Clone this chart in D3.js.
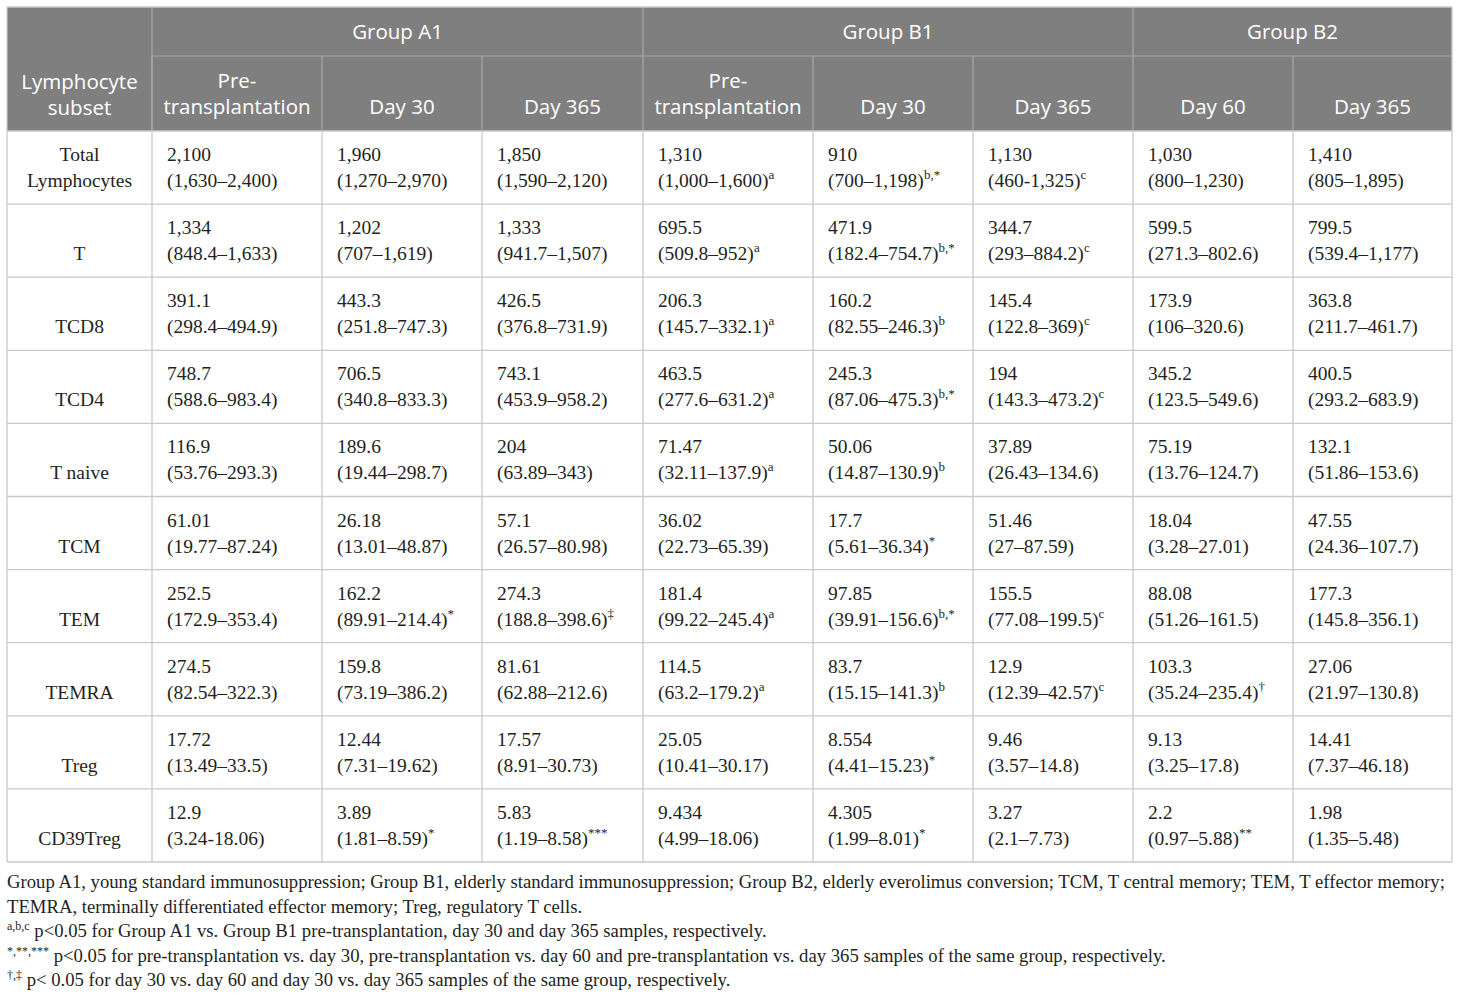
<!DOCTYPE html>
<html>
<head>
<meta charset="utf-8">
<script src="https://cdn.jsdelivr.net/npm/d3@7"></script>
<style>
  body { margin: 0; background: #fff; }
</style>
</head>
<body>
<script>
// data
var groups = ["Group A1", "Group B1", "Group B2"];
var timepoints = [
    ["Pre-", "transplantation"], ["Day 30"], ["Day 365"],
    ["Pre-", "transplantation"], ["Day 30"], ["Day 365"],
    ["Day 60"], ["Day 365"]
];
var groupSpan = [3, 3, 2];
var subsets = [["Total", "Lymphocytes"], ["T"], ["TCD8"], ["TCD4"], ["T naive"],
    ["TCM"], ["TEM"], ["TEMRA"], ["Treg"], ["CD39Treg"]];

var medians = [
    ["2,100", "1,960", "1,850", "1,310", "910", "1,130", "1,030", "1,410"],
    ["1,334", "1,202", "1,333", "695.5", "471.9", "344.7", "599.5", "799.5"],
    ["391.1", "443.3", "426.5", "206.3", "160.2", "145.4", "173.9", "363.8"],
    ["748.7", "706.5", "743.1", "463.5", "245.3", "194", "345.2", "400.5"],
    ["116.9", "189.6", "204", "71.47", "50.06", "37.89", "75.19", "132.1"],
    ["61.01", "26.18", "57.1", "36.02", "17.7", "51.46", "18.04", "47.55"],
    ["252.5", "162.2", "274.3", "181.4", "97.85", "155.5", "88.08", "177.3"],
    ["274.5", "159.8", "81.61", "114.5", "83.7", "12.9", "103.3", "27.06"],
    ["17.72", "12.44", "17.57", "25.05", "8.554", "9.46", "9.13", "14.41"],
    ["12.9", "3.89", "5.83", "9.434", "4.305", "3.27", "2.2", "1.98"]
];
var ranges = [
    ["1,630–2,400", "1,270–2,970", "1,590–2,120", "1,000–1,600", "700–1,198", "460-1,325", "800–1,230", "805–1,895"],
    ["848.4–1,633", "707–1,619", "941.7–1,507", "509.8–952", "182.4–754.7", "293–884.2", "271.3–802.6", "539.4–1,177"],
    ["298.4–494.9", "251.8–747.3", "376.8–731.9", "145.7–332.1", "82.55–246.3", "122.8–369", "106–320.6", "211.7–461.7"],
    ["588.6–983.4", "340.8–833.3", "453.9–958.2", "277.6–631.2", "87.06–475.3", "143.3–473.2", "123.5–549.6", "293.2–683.9"],
    ["53.76–293.3", "19.44–298.7", "63.89–343", "32.11–137.9", "14.87–130.9", "26.43–134.6", "13.76–124.7", "51.86–153.6"],
    ["19.77–87.24", "13.01–48.87", "26.57–80.98", "22.73–65.39", "5.61–36.34", "27–87.59", "3.28–27.01", "24.36–107.7"],
    ["172.9–353.4", "89.91–214.4", "188.8–398.6", "99.22–245.4", "39.91–156.6", "77.08–199.5", "51.26–161.5", "145.8–356.1"],
    ["82.54–322.3", "73.19–386.2", "62.88–212.6", "63.2–179.2", "15.15–141.3", "12.39–42.57", "35.24–235.4", "21.97–130.8"],
    ["13.49–33.5", "7.31–19.62", "8.91–30.73", "10.41–30.17", "4.41–15.23", "3.57–14.8", "3.25–17.8", "7.37–46.18"],
    ["3.24-18.06", "1.81–8.59", "1.19–8.58", "4.99–18.06", "1.99–8.01", "2.1–7.73", "0.97–5.88", "1.35–5.48"]
];
var marks = [
    ["", "", "", "a", "b,*", "c", "", ""],
    ["", "", "", "a", "b,*", "c", "", ""],
    ["", "", "", "a", "b", "c", "", ""],
    ["", "", "", "a", "b,*", "c", "", ""],
    ["", "", "", "a", "b", "", "", ""],
    ["", "", "", "", "*", "", "", ""],
    ["", "*", "‡", "a", "b,*", "c", "", ""],
    ["", "", "", "a", "b", "c", "†", ""],
    ["", "", "", "", "*", "", "", ""],
    ["", "*", "***", "", "*", "", "**", ""]
];
var footnotes = [
    ["", "Group A1, young standard immunosuppression; Group B1, elderly standard immunosuppression; Group B2, elderly everolimus conversion; TCM, T central memory; TEM, T effector memory;"],
    ["", "TEMRA, terminally differentiated effector memory; Treg, regulatory T cells."],
    ["a,b,c", " p<0.05 for Group A1 vs. Group B1 pre-transplantation, day 30 and day 365 samples, respectively."],
    ["*,**,***", " p<0.05 for pre-transplantation vs. day 30, pre-transplantation vs. day 60 and pre-transplantation vs. day 365 samples of the same group, respectively."],
    ["†,‡", " p< 0.05 for day 30 vs. day 60 and day 30 vs. day 365 samples of the same group, respectively."]
];

// layout
var width = 1460, height = 998;
var tableLeft = 7, tableTop = 7;
var colWidths = [145, 170, 160, 161, 170, 160, 160, 160, 159];
var edges = [tableLeft].concat(Array.from(d3.cumsum(colWidths), function (d) { return tableLeft + d; }));
var tableRight = edges[edges.length - 1];
var head1 = 49, head2 = 75;
var bodyTop = tableTop + head1 + head2;
var bodyBottom = 862;
var serif = "'Liberation Serif', 'DejaVu Serif', serif";
var sans = "'Open Sans', 'Noto Sans', sans-serif";
var headSize = 20.5;
var gridColor = "#c9c9c9";
var headColor = "#7f7f7f";
var headLine = "#a8a8a8";
var ink = "#231f20";

var y = d3.scaleBand()
    .domain(d3.range(subsets.length))
    .range([bodyTop, bodyBottom]);

var svg = d3.select("body").append("svg")
    .attr("width", width)
    .attr("height", height);

// header block
svg.append("rect")
    .attr("x", tableLeft).attr("y", tableTop)
    .attr("width", tableRight - tableLeft).attr("height", head1 + head2)
    .attr("fill", headColor);

svg.append("line")
    .attr("x1", edges[1]).attr("x2", tableRight)
    .attr("y1", tableTop + head1).attr("y2", tableTop + head1)
    .attr("stroke", headLine).attr("stroke-width", 1.2);

var gStart = 1;
groups.forEach(function (g, i) {
    var x0 = edges[gStart], x1 = edges[gStart + groupSpan[i]];
    svg.append("text")
        .attr("x", (x0 + x1) / 2).attr("y", tableTop + 32)
        .attr("text-anchor", "middle")
        .attr("font-family", sans).attr("font-size", headSize)
        .attr("fill", "#fff")
        .text(g);
    if (i > 0) {
        svg.append("line")
            .attr("x1", x0).attr("x2", x0)
            .attr("y1", tableTop).attr("y2", bodyTop)
            .attr("stroke", headLine).attr("stroke-width", 1.2);
    }
    gStart += groupSpan[i];
});

svg.append("line")
    .attr("x1", edges[1]).attr("x2", edges[1])
    .attr("y1", tableTop).attr("y2", bodyTop)
    .attr("stroke", headLine).attr("stroke-width", 1.2);

timepoints.forEach(function (tp, i) {
    var x0 = edges[i + 1], x1 = edges[i + 2];
    if (!(i === 3 || i === 6)) {
        svg.append("line")
            .attr("x1", x0).attr("x2", x0)
            .attr("y1", tableTop + head1).attr("y2", bodyTop)
            .attr("stroke", headLine).attr("stroke-width", 1.2);
    }
    var t = svg.append("text")
        .attr("text-anchor", "middle")
        .attr("font-family", sans).attr("font-size", headSize)
        .attr("fill", "#fff");
    tp.forEach(function (line, k) {
        t.append("tspan")
            .attr("x", (x0 + x1) / 2)
            .attr("y", bodyTop - 17 - (tp.length - 1 - k) * 26)
            .text(line);
    });
});

var hl = svg.append("text")
    .attr("text-anchor", "middle")
    .attr("font-family", sans).attr("font-size", headSize)
    .attr("fill", "#fff");
["Lymphocyte", "subset"].forEach(function (line, k) {
    hl.append("tspan")
        .attr("x", (edges[0] + edges[1]) / 2)
        .attr("y", tableTop + 82 + k * 26)
        .text(line);
});

// body grid
svg.selectAll(".hline")
    .data(d3.range(subsets.length + 1))
    .join("line")
    .attr("x1", tableLeft).attr("x2", tableRight)
    .attr("y1", function (d) { return d < subsets.length ? y(d) : bodyBottom; })
    .attr("y2", function (d) { return d < subsets.length ? y(d) : bodyBottom; })
    .attr("stroke", gridColor).attr("stroke-width", 1.3);

svg.selectAll(".vline")
    .data(edges)
    .join("line")
    .attr("x1", function (d) { return d; }).attr("x2", function (d) { return d; })
    .attr("y1", bodyTop).attr("y2", bodyBottom)
    .attr("stroke", gridColor).attr("stroke-width", 1.3);

svg.append("line")
    .attr("x1", tableLeft).attr("x2", tableLeft)
    .attr("y1", tableTop).attr("y2", bodyTop)
    .attr("stroke", gridColor).attr("stroke-width", 1.3);
svg.append("line")
    .attr("x1", tableRight).attr("x2", tableRight)
    .attr("y1", tableTop).attr("y2", bodyTop)
    .attr("stroke", gridColor).attr("stroke-width", 1.3);
svg.append("line")
    .attr("x1", tableLeft).attr("x2", tableRight)
    .attr("y1", tableTop).attr("y2", tableTop)
    .attr("stroke", gridColor).attr("stroke-width", 1.3);

// row labels
subsets.forEach(function (s, r) {
    var t = svg.append("text")
        .attr("text-anchor", "middle")
        .attr("font-family", serif).attr("font-size", 19.5)
        .attr("fill", ink);
    s.forEach(function (line, k) {
        t.append("tspan")
            .attr("x", (edges[0] + edges[1]) / 2)
            .attr("y", y(r) + 56 - (s.length - 1 - k) * 26)
            .text(line);
    });
});

// cells
medians.forEach(function (row, r) {
    row.forEach(function (m, c) {
        var x = edges[c + 1] + 15;
        var t = svg.append("text")
            .attr("font-family", serif).attr("font-size", 19.5)
            .attr("fill", ink);
        t.append("tspan").attr("x", x).attr("y", y(r) + 30).text(m);
        t.append("tspan").attr("x", x).attr("y", y(r) + 56)
            .text("(" + ranges[r][c] + ")");
        if (marks[r][c]) {
            t.append("tspan")
                .attr("dy", -8)
                .attr("font-size", 13)
                .text(marks[r][c]);
        }
    });
});

// footnotes
footnotes.forEach(function (f, i) {
    var t = svg.append("text")
        .attr("x", tableLeft).attr("y", 888 + i * 24.5)
        .attr("font-family", serif).attr("font-size", 18.7)
        .attr("fill", ink);
    if (f[0]) {
        t.append("tspan").attr("dy", -7).attr("font-size", 12).text(f[0]);
        t.append("tspan").attr("dy", 7).text(f[1]);
    } else {
        t.text(f[1]);
    }
});
</script>
</body>
</html>
